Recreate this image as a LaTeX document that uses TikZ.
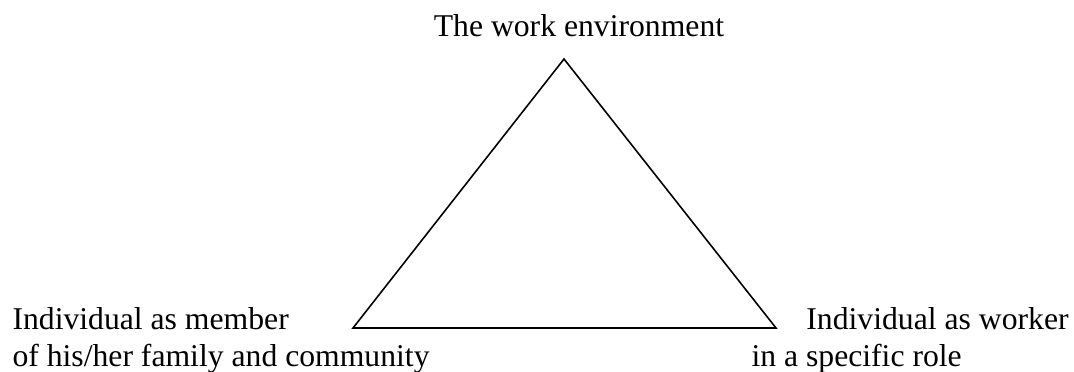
\documentclass[tikz,border=0pt]{standalone}
\usepackage{fontspec}
\setmainfont{Liberation Serif}
\usetikzlibrary{positioning}

\begin{document}
\begin{tikzpicture}[x=0.3788pt, y=-0.3788pt]
  \tikzstyle{label} = [inner sep=0pt, align=left, font=\fontsize{12}{13.8}\selectfont]
  \tikzstyle{edge} = [draw, line width=0.6pt, line join=miter]

  \useasboundingbox (0,0) rectangle (1074,371);

  % corners of the triangle
  \coordinate (apex) at (564,59);
  \coordinate (left) at (353,328);
  \coordinate (right) at (776,328);

  % base anchor sits on the last line
  \node (env) [label, anchor=base] at (579,36) {The work environment};
  \node (member) [label, anchor=base west] at (12,366) {Individual as member\\of his/her family and community};
  \node (worker) [label, anchor=base west] at (751,366) {\hspace*{20.8pt}Individual as worker\\in a specific role};

  \draw [edge] (apex) -- (left) -- (right) -- cycle;

\end{tikzpicture}
\end{document}
